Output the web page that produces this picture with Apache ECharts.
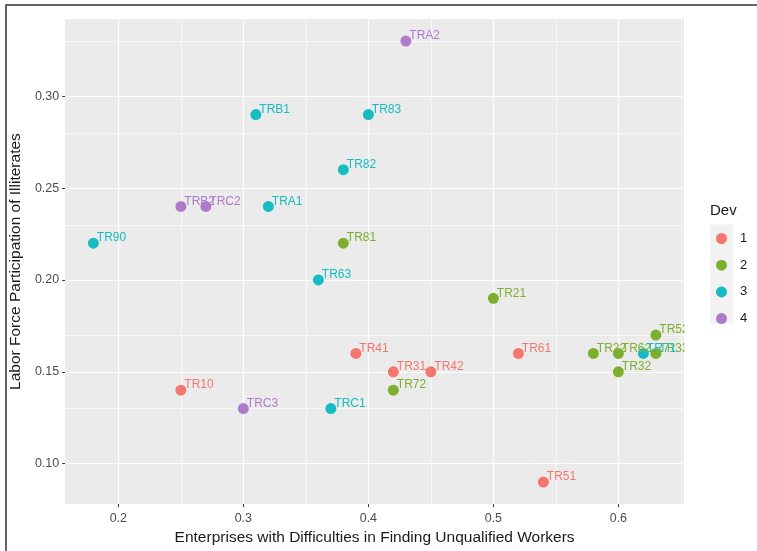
<!DOCTYPE html>
<html>
<head>
<meta charset="utf-8">
<script src="https://cdn.jsdelivr.net/npm/echarts@6/dist/echarts.min.js"></script>
<style>html,body{margin:0;padding:0;background:#fff}#c{width:757px;height:551px}</style>
</head>
<body>
<div id="c"></div>
<script>
const names = ['TRA2','TRB1','TR83','TR82','TRB2','TRC2','TRA1','TR90','TR81','TR63','TR21','TR52','TR41','TR61','TR22','TR62','TR71','TR33','TR31','TR42','TR32','TR10','TR72','TRC3','TRC1','TR51'];
const xVals = [0.43,0.31,0.40,0.38,0.25,0.27,0.32,0.18,0.38,0.36,0.50,0.63,0.39,0.52,0.58,0.60,0.62,0.63,0.42,0.45,0.60,0.25,0.42,0.30,0.37,0.54];
const yVals = [0.33,0.29,0.29,0.26,0.24,0.24,0.24,0.22,0.22,0.20,0.19,0.17,0.16,0.16,0.16,0.16,0.16,0.16,0.15,0.15,0.15,0.14,0.14,0.13,0.13,0.09];
const devs  = ['4','3','3','3','4','4','3','3','2','3','2','2','1','1','2','2','3','2','1','1','2','1','2','4','3','1'];
const devLevels = ['1','2','3','4'];
const colors = ['#F3766F','#7DAF2E','#16BCC2','#AE7BCA'];
const xTicks = [0.2,0.3,0.4,0.5,0.6];
const xMinor = [0.25,0.35,0.45,0.55,0.65];
const yTicks = [0.10,0.15,0.20,0.25,0.30];
const yMinor = [0.075,0.125,0.175,0.225,0.275,0.325];

const xMin = 0.1575, xMax = 0.6525, yMin = 0.078, yMax = 0.342;

const chart = echarts.init(document.getElementById('c'));
const font = 'Liberation Sans, Arial, sans-serif';

const series = devLevels.map((d, i) => ({
  name: d,
  type: 'scatter',
  z: 3,
  symbolSize: 11,
  itemStyle: { color: colors[i], opacity: 1 },
  label: {
    show: true,
    position: 'right',
    distance: 0,
    offset: [-2, -5],
    formatter: p => p.data[2],
    color: colors[i],
    fontSize: 12,
    fontFamily: font
  },
  emphasis: { disabled: true },
  data: names.map((n, k) => [xVals[k], yVals[k], n, devs[k]]).filter(r => r[3] === d)
}));

const gridLine = (v, key, w) => ({ [key]: v, lineStyle: { color: '#ffffff', width: w, type: 'solid' } });
series.unshift({
  name: 'grid',
  type: 'scatter',
  z: 1,
  data: [],
  silent: true,
  markLine: {
    silent: true,
    z: 1,
    animation: false,
    symbol: ['none', 'none'],
    label: { show: false },
    emphasis: { disabled: true },
    data: [
      ...xMinor.filter(v => v > xMin && v < xMax).map(v => gridLine(v, 'xAxis', 0.6)),
      ...yMinor.filter(v => v > yMin && v < yMax).map(v => gridLine(v, 'yAxis', 0.6)),
      ...xTicks.map(v => gridLine(v, 'xAxis', 1.2)),
      ...yTicks.map(v => gridLine(v, 'yAxis', 1.2))
    ]
  }
});

chart.setOption({
  animation: false,
  backgroundColor: '#ffffff',
  textStyle: { fontFamily: font },
  grid: { left: 65, top: 19, right: 73, bottom: 45, show: true, backgroundColor: '#EBEBEB', borderWidth: 0 },
  xAxis: {
    type: 'value', min: xMin, max: xMax,
    name: 'Enterprises with Difficulties in Finding Unqualified Workers',
    nameLocation: 'middle', nameGap: 22,
    nameTextStyle: { color: '#1a1a1a', fontSize: 15.5, fontFamily: font },
    axisLine: { show: false },
    axisTick: { show: true, length: 3, customValues: xTicks, lineStyle: { color: '#333' } },
    axisLabel: { customValues: xTicks, margin: 8, color: '#4D4D4D', fontSize: 12.5, fontFamily: font, formatter: v => v.toFixed(1) },
    splitLine: { show: false }
  },
  yAxis: {
    type: 'value', min: yMin, max: yMax,
    name: 'Labor Force Participation of Illiterates',
    nameLocation: 'middle', nameGap: 35,
    nameTextStyle: { color: '#1a1a1a', fontSize: 15.5, fontFamily: font },
    axisLine: { show: false },
    axisTick: { show: true, length: 3, customValues: yTicks, lineStyle: { color: '#333' } },
    axisLabel: { customValues: yTicks, margin: 6, color: '#4D4D4D', fontSize: 12.5, fontFamily: font, formatter: v => v.toFixed(2) },
    splitLine: { show: false }
  },
  legend: {
    orient: 'vertical', left: 716, top: 232, padding: 0,
    itemWidth: 11, itemHeight: 11, itemGap: 13.7,
    icon: 'circle',
    data: devLevels,
    selectedMode: false,
    textStyle: { color: '#1a1a1a', fontSize: 13, fontFamily: font, padding: [0, 0, 0, 8], lineHeight: 11 }
  },
  graphic: [
    { type: 'rect', z: -1, shape: { x: 710, y: 224.5, width: 23, height: 99 }, style: { fill: '#F2F2F2' } },
    { type: 'rect', z: 100, silent: true, shape: { x: 684.5, y: 19, width: 24, height: 488 }, style: { fill: '#ffffff' } },
    { type: 'text', z: 101, x: 710, y: 211, style: { text: 'Dev', fill: '#1a1a1a', fontSize: 15, fontFamily: font, verticalAlign: 'middle', align: 'left' } },
    { type: 'polyline', z: 101, silent: true, shape: { points: [[6, 551], [6, 5], [757, 5]] }, style: { fill: 'none', stroke: '#333', lineWidth: 1.5 } }
  ],
  series: series
});
</script>
</body>
</html>
